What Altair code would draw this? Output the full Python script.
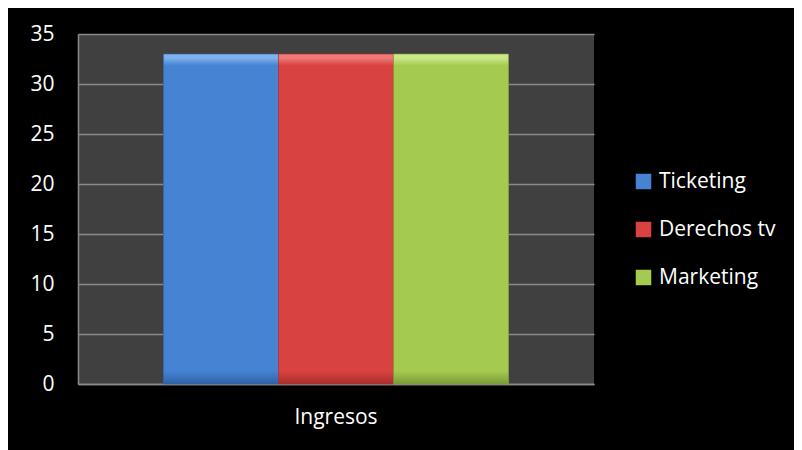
import altair as alt
import pandas as pd

categories = ["Ingresos"]
series = ["Ticketing", "Derechos tv", "Marketing"]
values = [33, 33, 33]
colors = ["#4683d3", "#d84341", "#a5ca50"]
lights = ["#7fb2ee", "#f07a78", "#cbe78a"]
darks = ["#2f62a6", "#a82e2c", "#7c9b36"]
y_ticks = [0, 5, 10, 15, 20, 25, 30, 35]

df = pd.DataFrame({
    "categoria": categories * len(series),
    "serie": series,
    "valor": values,
})

FONT = "Open Sans"
FS = 21

x_enc = alt.X("categoria:N", title=None,
              scale=alt.Scale(paddingOuter=0.248, paddingInner=0),
              axis=alt.Axis(labelAngle=0, labelFontSize=FS, labelColor="white",
                            labelPadding=22, ticks=False, domainColor="#8a8a8a",
                            domainWidth=1.5, grid=False, labelFont=FONT))
xo_enc = alt.XOffset("serie:N", sort=series,
                     scale=alt.Scale(domain=series, paddingInner=0, paddingOuter=0))
y_enc = alt.Y("valor:Q", title=None,
              scale=alt.Scale(domain=[0, 35], nice=False),
              axis=alt.Axis(values=y_ticks, labelFontSize=FS, labelColor="white",
                            labelPadding=24, ticks=False, domainColor="#8a8a8a",
                            domainWidth=1.5, gridColor="#8a8a8a", gridWidth=1.5,
                            labelFont=FONT))

base = alt.Chart(df).mark_bar().encode(
    x=x_enc, xOffset=xo_enc, y=y_enc,
    color=alt.Color("serie:N", sort=series,
                    scale=alt.Scale(domain=series, range=colors),
                    legend=alt.Legend(title=None, orient="none", legendX=555,
                                      legendY=137, symbolType="square",
                                      symbolSize=240, symbolStrokeWidth=0,
                                      labelFontSize=FS, labelColor="white",
                                      labelFont=FONT, labelOffset=5,
                                      rowPadding=26, padding=0)),
)

layers = [base]
for s, c, lt, dk in zip(series, colors, lights, darks):
    grad = alt.Gradient(
        gradient="linear", x1=0, x2=0, y1=0, y2=1,
        stops=[
            alt.GradientStop(color=lt, offset=0),
            alt.GradientStop(color=lt, offset=0.012),
            alt.GradientStop(color=c, offset=0.035),
            alt.GradientStop(color=c, offset=0.96),
            alt.GradientStop(color=dk, offset=1),
        ],
    )
    layers.append(
        alt.Chart(df).transform_filter(alt.datum.serie == s)
        .mark_bar(color=grad, stroke=dk, strokeWidth=0.8, strokeOpacity=0.7)
        .encode(x=x_enc, xOffset=xo_enc, y=y_enc)
    )

chart = alt.layer(*layers).properties(
    width=516,
    height=350,
    background="black",
    padding={"left": 70, "top": 26, "right": 200, "bottom": 66},
    autosize=alt.AutoSizeParams(type="none"),
).configure_view(fill="#404040", stroke=None)

chart.save("out.html", embed_options={"renderer": "svg", "actions": False})
